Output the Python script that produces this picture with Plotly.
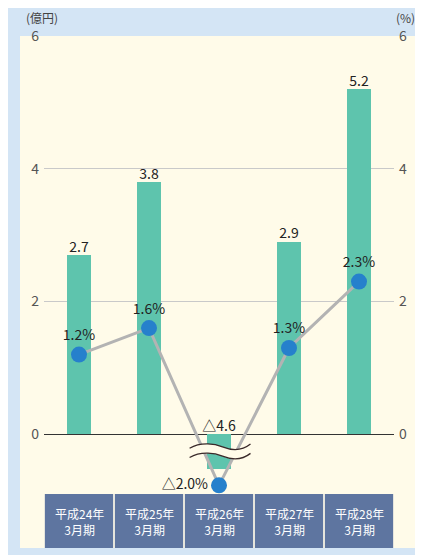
import plotly.graph_objects as go

# ---- data ----
categories = ["平成24年<br>3月期", "平成25年<br>3月期", "平成26年<br>3月期", "平成27年<br>3月期", "平成28年<br>3月期"]
profit = [2.7, 3.8, -4.6, 2.9, 5.2]          # 億円
ratio = [1.2, 1.6, -2.0, 1.3, 2.3]           # %
y_ticks = [0, 2, 4, 6]

# broken-axis depths for negative values (display only)
BAR_BREAK = -0.53
LINE_BREAK = -0.77

def fmt(v, suffix=""):
    return ("△" if v < 0 else "") + f"{abs(v):.1f}" + suffix

x = list(range(len(categories)))
bar_disp = [max(v, BAR_BREAK) for v in profit]
line_disp = [max(v, LINE_BREAK) for v in ratio]

NUM_FONT = "Liberation Sans Narrow, Noto Sans CJK JP, sans-serif"
JP_FONT = "Noto Sans CJK JP, sans-serif"
CREAM = "#fffbe9"

fig = go.Figure()
fig.add_trace(go.Bar(x=x, y=bar_disp, width=0.33, marker=dict(color="#5ec4ad", line=dict(width=0)),
                     showlegend=False, hoverinfo="skip"))
fig.add_trace(go.Scatter(x=x, y=[max(v, 0) for v in profit], mode="text",
                         text=[fmt(v) for v in profit], textposition="top center",
                         textfont=dict(family=NUM_FONT, size=14, color="#222"),
                         showlegend=False, cliponaxis=False, hoverinfo="skip"))
fig.add_trace(go.Scatter(x=x, y=line_disp, yaxis="y2", mode="lines+markers+text",
                         line=dict(color="#b3b3b3", width=3),
                         marker=dict(color="#2680cc", size=16),
                         text=[fmt(v, "%") for v in ratio],
                         textposition=["top center" if v >= 0 else "middle left" for v in ratio],
                         textfont=dict(family=NUM_FONT, size=14, color="#222"),
                         showlegend=False, cliponaxis=False, hoverinfo="skip"))

# page is rendered with an 8px body margin: figure spans page px 8..423 / 8..555
OFF = 8
W, H = 423 - OFF, 555 - OFF
yr = [-0.9, 6]
fig.update_layout(
    width=W, height=H,
    margin=dict(l=44 - OFF, r=(423 - OFF) - (394 - OFF), t=36 - OFF, b=H - (494 - OFF)),
    paper_bgcolor="white", plot_bgcolor="rgba(0,0,0,0)",
    xaxis=dict(range=[-0.5, 4.5], showticklabels=False, showgrid=False, zeroline=False, fixedrange=True),
    yaxis=dict(range=yr, tickvals=y_ticks, showgrid=True, gridcolor="#c9c9c9", gridwidth=1,
               zeroline=True, zerolinecolor="#333333", zerolinewidth=1,
               tickfont=dict(family=NUM_FONT, size=14, color="#555"), ticks="", ticklabelstandoff=4),
    yaxis2=dict(range=yr, tickvals=y_ticks, overlaying="y", side="right", showgrid=False, zeroline=False,
                tickfont=dict(family=NUM_FONT, size=14, color="#555"), ticks="", ticklabelstandoff=4),
    bargap=0,
)

# page px -> paper coordinates (plot area spans page x 44..394, y 36..494)
def px2paper_x(px):
    return (px - 44) / 350
def px2paper_y(py):
    return (494 - py) / 458

fig.add_shape(type="rect", xref="paper", yref="paper", layer="below",
              x0=px2paper_x(6), x1=px2paper_x(430), y0=px2paper_y(560), y1=px2paper_y(5),
              fillcolor="#d4e5f5", line=dict(width=0))
fig.add_shape(type="rect", xref="paper", yref="paper", layer="below",
              x0=px2paper_x(20), x1=px2paper_x(419), y0=px2paper_y(548), y1=px2paper_y(36),
              fillcolor=CREAM, line=dict(width=0))

# category boxes
for i, c in enumerate(categories):
    fig.add_shape(type="rect", xref="x", yref="paper", x0=i - 0.5 + 0.012, x1=i + 0.5 - 0.012,
                  y0=px2paper_y(548), y1=0, fillcolor="#5e75a0", line=dict(width=0))
    fig.add_annotation(x=i, xref="x", y=px2paper_y(521), yref="paper", text=c, showarrow=False,
                       xanchor="center", yanchor="middle",
                       font=dict(family=JP_FONT, size=12, color="white"))

# axis break squiggles
a = 0.07
def wave(y0):
    return (f"M 1.58,{y0 - a*0.3} C 1.75,{y0 + a*1.2} 1.95,{y0 + a*0.6} 2.05,{y0} "
            f"S 2.3,{y0 - a*1.2} 2.45,{y0 + a*0.6}")
up, lo = -0.19, -0.33
fill_path = (f"M 1.58,{up - a*0.3} C 1.75,{up + a*1.2} 1.95,{up + a*0.6} 2.05,{up} "
             f"S 2.3,{up - a*1.2} 2.45,{up + a*0.6} "
             f"L 2.45,{lo + a*0.6} "
             f"C 2.3,{lo - a*1.2} 2.15,{lo - a*0.6} 2.05,{lo} "
             f"S 1.75,{lo + a*1.2} 1.58,{lo - a*0.3} Z")
fig.add_shape(type="path", xref="x", yref="y", path=fill_path, fillcolor=CREAM, line=dict(width=0))
fig.add_shape(type="path", xref="x", yref="y", path=wave(up), line=dict(color="#3a2a2a", width=1.3))
fig.add_shape(type="path", xref="x", yref="y", path=wave(lo), line=dict(color="#3a2a2a", width=1.3))

# axis unit labels
fig.add_annotation(x=px2paper_x(42), y=px2paper_y(17), xref="paper", yref="paper", text="(億円)",
                   showarrow=False, xanchor="center", yanchor="middle",
                   font=dict(family=JP_FONT, size=12, color="#444"))
fig.add_annotation(x=px2paper_x(405), y=px2paper_y(17), xref="paper", yref="paper", text="(%)",
                   showarrow=False, xanchor="center", yanchor="middle",
                   font=dict(family=JP_FONT, size=12, color="#444"))

fig.write_html("out.html")
